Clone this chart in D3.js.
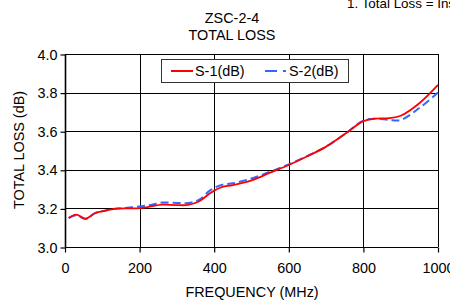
<!DOCTYPE html>
<html><head><meta charset="utf-8">
<script src="https://cdn.jsdelivr.net/npm/d3@7"></script>
<style>body{margin:0;background:#fff}svg{display:block;font-family:"Liberation Sans",Arial,sans-serif}</style>
</head><body>
<script>
const freq = [10,30,55,80,100,130,160,200,230,260,300,330,360,390,420,450,500,550,600,650,700,750,800,830,870,900,950,1000];
const s1 = [3.15,3.168,3.147,3.175,3.185,3.196,3.2,3.201,3.21,3.22,3.217,3.218,3.237,3.28,3.31,3.32,3.345,3.385,3.425,3.47,3.52,3.585,3.652,3.665,3.668,3.68,3.745,3.84];
const s2 = [3.15,3.165,3.145,3.175,3.186,3.197,3.202,3.21,3.218,3.23,3.228,3.228,3.245,3.295,3.322,3.33,3.355,3.39,3.428,3.472,3.52,3.585,3.655,3.665,3.658,3.658,3.72,3.80];
const xTicks = [0,200,400,600,800,1000];
const yTicks = [3.0,3.2,3.4,3.6,3.8,4.0];
const seriesNames = ["S-1(dB)","S-2(dB)"];
const colors = ["#ff0000","#3366ff"];

const W=450,H=301,FS=14.4;
const svg=d3.select("body").append("svg").attr("width",W).attr("height",H);
const x=d3.scaleLinear().domain([0,1000]).range([65,438]);
const y=d3.scaleLinear().domain([3,4]).range([247,54]);

svg.append("text").attr("x",347).attr("y",8).attr("font-size",13.4).text("1. Total Loss = Insertion Loss + 3dB splitter loss");
svg.append("text").attr("x",232).attr("y",23).attr("text-anchor","middle").attr("font-size",FS).text("ZSC-2-4");
svg.append("text").attr("x",232).attr("y",40).attr("text-anchor","middle").attr("font-size",FS).text("TOTAL LOSS");

const g=svg.append("g");
g.selectAll(".hg").data(yTicks).enter().append("line")
 .attr("x1",x(0)).attr("x2",x(1000)).attr("y1",d=>Math.round(y(d))+0.5).attr("y2",d=>Math.round(y(d))+0.5)
 .attr("stroke","#000").attr("stroke-width",1);
g.selectAll(".vg").data(xTicks).enter().append("line")
 .attr("y1",y(4)).attr("y2",y(3)).attr("x1",d=>Math.round(x(d))+0.5).attr("x2",d=>Math.round(x(d))+0.5)
 .attr("stroke","#000").attr("stroke-width",1);

const yAxis=d3.axisLeft(y).tickValues(yTicks).tickFormat(d3.format(".1f")).tickSize(5).tickPadding(3);
const xAxis=d3.axisBottom(x).tickValues(xTicks).tickFormat(d3.format("d")).tickSize(5).tickPadding(10);
const ya=svg.append("g").attr("transform",`translate(${Math.round(x(0))+0.5},0.5)`).call(yAxis);
const xa=svg.append("g").attr("transform",`translate(0,${Math.round(y(3))+0.5})`).call(xAxis);
[ya,xa].forEach(a=>{a.selectAll("text").attr("font-size",FS).attr("fill","#000").attr("font-family","Liberation Sans, Arial, sans-serif");
 a.selectAll("line,path").attr("stroke","#000").attr("stroke-width",1.2);});
xa.select(".domain").remove();
ya.select(".domain").remove();
svg.append("line").attr("x1",Math.round(x(0))+0.5).attr("x2",Math.round(x(0))+0.5).attr("y1",y(4)).attr("y2",y(3)).attr("stroke","#000").attr("stroke-width",1.6);

svg.append("text").attr("transform","translate(24,150) rotate(-90)").attr("text-anchor","middle").attr("font-size",FS).text("TOTAL LOSS (dB)");
svg.append("text").attr("x",252).attr("y",297).attr("text-anchor","middle").attr("font-size",FS).text("FREQUENCY (MHz)");

const line=d3.line().x(d=>x(d[0])).y(d=>y(d[1])).curve(d3.curveCatmullRom);
svg.append("path").datum(freq.map((f,i)=>[f,s2[i]])).attr("d",line).attr("fill","none").attr("stroke",colors[1]).attr("stroke-width",2).attr("stroke-dasharray","8,4");
svg.append("path").datum(freq.map((f,i)=>[f,s1[i]])).attr("d",line).attr("fill","none").attr("stroke",colors[0]).attr("stroke-width",1.8);

const lg=svg.append("g");
lg.append("rect").attr("x",161.5).attr("y",59.5).attr("width",187).attr("height",23).attr("fill","#fff").attr("stroke","#333").attr("stroke-width",1);
lg.append("line").attr("x1",171).attr("x2",193).attr("y1",71).attr("y2",71).attr("stroke",colors[0]).attr("stroke-width",2);
lg.append("text").attr("x",195).attr("y",76).attr("font-size",FS).text(seriesNames[0]);
lg.append("line").attr("x1",265).attr("x2",289).attr("y1",71).attr("y2",71).attr("stroke",colors[1]).attr("stroke-width",2).attr("stroke-dasharray","12,6,3,3");
lg.append("text").attr("x",289).attr("y",76).attr("font-size",FS).text(seriesNames[1]);
</script>
</body></html>
